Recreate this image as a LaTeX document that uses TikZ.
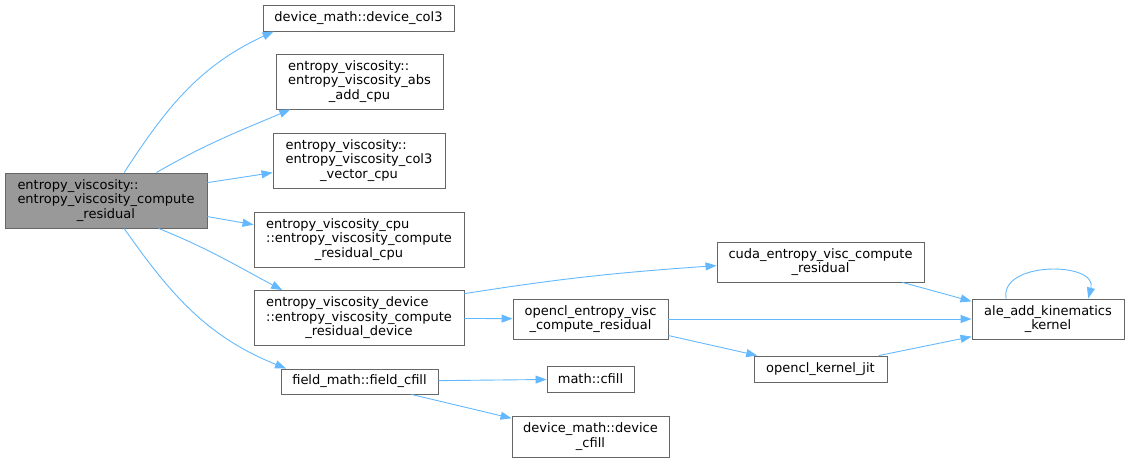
\documentclass[tikz,border=0pt]{standalone}
\usepackage{fontspec}
\setmainfont{DejaVu Sans}
\usepackage{calc}
\usetikzlibrary{arrows.meta}
\definecolor{edgeblue}{HTML}{63B8FF}
\definecolor{boxgray}{HTML}{666666}
\definecolor{rootgray}{HTML}{999999}
\newcommand{\firstline}[2]{\makebox[\widthof{#2}][l]{#1}}
\tikzset{
  fn/.style={draw=boxgray, fill=white, line width=0.9pt, inner sep=0pt,
    align=center, font=\fontsize{13}{14.5}\selectfont},
  call/.style={draw=edgeblue, line width=0.9pt, -{Triangle[length=11pt,width=8pt]}},
}
\begin{document}
\begin{tikzpicture}[x=1pt,y=1pt]
      \useasboundingbox (0,0) rectangle (1129,-462);
      \node[fn, fill=rootgray, minimum width=202pt, minimum height=55pt] (root) at (106,-200.5)
        {\firstline{entropy\_viscosity::}{entropy\_viscosity\_compute}\\entropy\_viscosity\_compute\\\_residual};
      \node[fn, minimum width=191pt, minimum height=26pt] (col3) at (358.5,-18) {device\_math::device\_col3};
      \node[fn, minimum width=167pt, minimum height=55pt] (absadd) at (359.5,-81.5)
        {\firstline{entropy\_viscosity::}{entropy\_viscosity\_abs}\\entropy\_viscosity\_abs\\\_add\_cpu};
      \node[fn, minimum width=172pt, minimum height=55pt] (col3vec) at (359,-160.5)
        {\firstline{entropy\_viscosity::}{entropy\_viscosity\_col3}\\entropy\_viscosity\_col3\\\_vector\_cpu};
      \node[fn, minimum width=210pt, minimum height=55pt] (rescpu) at (359,-239.5)
        {\firstline{entropy\_viscosity\_cpu}{::entropy\_viscosity\_compute}\\::entropy\_viscosity\_compute\\\_residual\_cpu};
      \node[fn, minimum width=210pt, minimum height=55pt] (resdev) at (359,-318)
        {\firstline{entropy\_viscosity\_device}{::entropy\_viscosity\_compute}\\::entropy\_viscosity\_compute\\\_residual\_device};
      \node[fn, minimum width=157pt, minimum height=25pt] (fieldcfill) at (359.5,-381.5) {field\_math::field\_cfill};
      \node[fn, minimum width=207pt, minimum height=40pt] (cudares) at (820.5,-262)
        {cuda\_entropy\_visc\_compute\\\_residual};
      \node[fn, minimum width=155pt, minimum height=40pt] (openclres) at (590.5,-319)
        {opencl\_entropy\_visc\\\_compute\_residual};
      \node[fn, minimum width=87pt, minimum height=26pt] (cfill) at (590.5,-379) {math::cfill};
      \node[fn, minimum width=157pt, minimum height=41pt] (devcfill) at (590.5,-436.5)
        {device\_math::device\\\_cfill};
      \node[fn, minimum width=133pt, minimum height=26pt] (jit) at (820.5,-369) {opencl\_kernel\_jit};
      \node[fn, minimum width=152pt, minimum height=40pt] (ale) at (1048,-319)
        {ale\_add\_kinematics\\\_kernel};
      \begin{scope}[call]
        \draw (root.57) to[out=57,in=205] (col3.189);
        \draw (root.29) to[out=30,in=203] (absadd.202);
        \draw (root.10) -- (col3vec.188);
        \draw (root.351) -- (rescpu.172);
        \draw (root.332) to[out=-22,in=152] (resdev.160);
        \draw (root.303) to[out=-55,in=158] (fieldcfill.170);
        \draw (resdev.13) to[out=9,in=184] (cudares.182);
        \draw (resdev) -- (openclres);
        \draw (openclres) -- (ale);
        \draw (openclres.348) -- (jit.168);
        \draw (cudares.346) -- (ale.167);
        \draw (jit.13) -- (ale.193);
        \draw (ale.154) to[out=100,in=75,looseness=1.2] (ale.27);
        \draw (fieldcfill) -- (cfill);
        \draw (fieldcfill.346) -- (devcfill.167);
      \end{scope}
    \end{tikzpicture}
\end{document}
